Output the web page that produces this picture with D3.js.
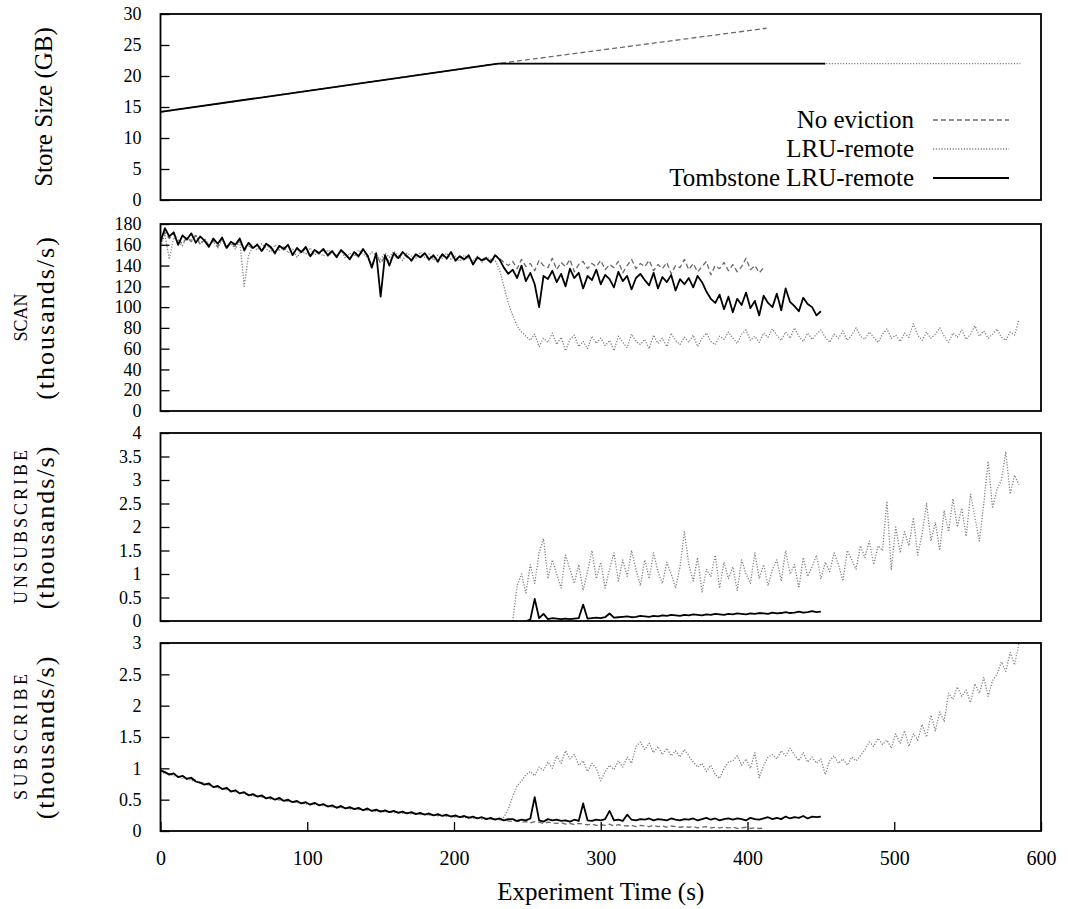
<!DOCTYPE html>
<html>
<head>
<meta charset="utf-8">
<script src="https://cdn.jsdelivr.net/npm/d3@7"></script>
<style>
body { margin: 0; background: #fff; }
</style>
</head>
<body>
<div id="chart"></div>
<script>
// sampling interval of the throughput series (seconds)
const step = 3
const xTicks = [0, 100, 200, 300, 400, 500, 600]
const seriesNames = ['No eviction', 'LRU-remote', 'Tombstone LRU-remote']

// store size (GB), breakpoints only
const storeTimeNoev = [0, 230, 413]
const storeNoev = [14.2, 22, 27.7]
const storeTimeLru = [0, 230, 586]
const storeLru = [14.2, 22, 22]
const storeTimeTomb = [0, 230, 453]
const storeTomb = [14.2, 22, 22]

// SCAN throughput (thousands/s), t = 0, 3, 6, ...
const scanNoev = [162, 172, 166, 170, 165, 161, 167, 163, 169, 160,
  165, 159, 164, 158, 166, 156, 162, 158, 165, 154,
  159, 156, 161, 153, 160, 157, 151, 158, 155, 159,
  151, 156, 152, 157, 148, 154, 151, 155, 149, 153,
  149, 154, 150, 147, 152, 148, 155, 149, 140, 151,
  142, 149, 143, 151, 146, 152, 148, 144, 150, 147,
  151, 145, 149, 143, 150, 146, 152, 144, 148, 145,
  149, 142, 147, 146, 148, 144, 150, 147, 143, 140,
  144, 137, 146, 139, 142, 135, 145, 140, 138, 147,
  136, 143, 139, 146, 134, 141, 144, 137, 142, 139,
  145, 136, 141, 138, 144, 133, 140, 146, 137, 142,
  139, 145, 135, 141, 137, 143, 132, 140, 138, 146,
  136, 142, 134, 139, 144, 131, 140, 137, 143, 135,
  141, 134, 139, 147, 136, 140, 133, 138]
const scanLru = [158, 170, 146, 167, 163, 159, 168, 164, 170, 161,
  166, 160, 163, 157, 165, 159, 161, 156, 164, 120,
  150, 158, 155, 161, 156, 153, 160, 155, 158, 152,
  156, 148, 154, 151, 157, 150, 153, 149, 155, 152,
  150, 154, 147, 152, 149, 155, 151, 148, 153, 150,
  146, 152, 148, 154, 150, 145, 152, 149, 147, 153,
  148, 151, 145, 150, 147, 152, 146, 149, 144, 150,
  147, 145, 149, 143, 148, 146, 145, 136, 120, 104,
  92, 82, 76, 72, 68, 74, 62, 70, 66, 75,
  64, 71, 58, 69, 73, 62, 67, 60, 72, 65,
  70, 63, 68, 58, 72, 66, 61, 74, 67, 64,
  69, 60, 73, 65, 70, 62, 75, 68, 64, 71,
  66, 73, 62, 70, 75, 67, 64, 72, 69, 76,
  70, 65, 74, 78, 68, 72, 66, 75, 71, 79,
  73, 68, 76, 70, 80, 72, 67, 75, 69, 74,
  78, 71, 66, 74, 70, 77, 68, 73, 80, 72,
  69, 76, 71, 66, 74, 79, 70, 73, 67, 75,
  71, 84, 73, 68, 76, 70, 74, 80, 72, 66,
  75, 71, 78, 69, 74, 82, 72, 77, 70, 74,
  79, 71, 68, 76, 73, 88]
const scanTomb = [163, 176, 168, 172, 160, 169, 165, 171, 162, 168,
  164, 158, 166, 161, 167, 157, 163, 160, 166, 155,
  162, 157, 160, 154, 161, 158, 152, 159, 156, 160,
  150, 157, 153, 158, 149, 155, 152, 156, 150, 154,
  148, 155, 151, 146, 153, 149, 156, 150, 138, 152,
  110, 150, 140, 152, 147, 153, 149, 145, 151, 148,
  152, 146, 150, 144, 151, 147, 153, 145, 149, 146,
  150, 141, 148, 145, 147, 143, 150, 146, 138, 132,
  136, 128, 140, 125, 133, 122, 100, 130, 127, 135,
  124, 132, 120, 137, 128, 133, 118, 130, 126, 136,
  122, 131, 127, 119, 134, 125, 130, 117, 128, 132,
  126, 121, 133, 118, 129, 124, 131, 116, 127, 122,
  128, 119, 130, 124, 115, 108, 104, 112, 98, 110,
  95, 108, 102, 114, 99, 106, 92, 111, 104, 100,
  113, 97, 118, 105, 101, 96, 109, 103, 100, 92, 96]

// UNSUBSCRIBE throughput (thousands/s)
const unsubLruStart = 240
const unsubLru = [0, 0.75, 1.0, 0.6, 1.2, 0.8, 1.45, 1.75, 0.9, 1.3,
  1.0, 0.7, 1.4, 1.1, 0.8, 1.2, 0.65, 1.05, 1.5, 0.9,
  1.25, 0.7, 1.1, 1.45, 0.85, 1.3, 0.95, 1.5, 1.1, 0.75,
  1.3, 0.9, 1.45, 1.05, 0.8, 1.25, 1.0, 0.7, 1.15, 1.9,
  1.2, 0.85, 1.35, 0.6, 1.1, 0.95, 1.4, 0.7, 1.25, 0.9,
  1.15, 0.65, 1.3, 1.0, 0.8, 1.45, 0.9, 1.2, 0.75, 1.1,
  1.3, 0.85, 1.5, 1.0, 1.2, 0.7, 1.35, 0.95, 1.15, 1.4,
  0.9, 1.25, 1.05, 1.45, 1.2, 0.85, 1.5, 1.3, 1.1, 1.6,
  1.35, 1.7, 1.2, 1.6, 1.5, 2.55, 1.1, 2.0, 1.45, 1.9,
  1.6, 2.2, 1.4, 1.85, 2.5, 1.7, 2.1, 1.5, 2.35, 1.9,
  2.6, 2.0, 2.4, 1.8, 2.7, 2.2, 1.7, 2.5, 3.4, 2.4,
  2.8, 3.0, 3.6, 2.7, 3.1, 2.9]
const unsubTombStart = 249
const unsubTomb = [0, 0.03, 0.47, 0.06, 0.15, 0.04, 0.06, 0.05, 0.04, 0.05,
  0.04, 0.05, 0.06, 0.35, 0.05, 0.06, 0.07, 0.06, 0.08, 0.16,
  0.07, 0.08, 0.09, 0.1, 0.08, 0.09, 0.11, 0.1, 0.09, 0.11,
  0.1, 0.12, 0.11, 0.13, 0.12, 0.11, 0.13, 0.12, 0.14, 0.13,
  0.12, 0.14, 0.13, 0.15, 0.14, 0.13, 0.15, 0.14, 0.16, 0.15,
  0.14, 0.16, 0.15, 0.17, 0.16, 0.15, 0.18, 0.16, 0.17, 0.19,
  0.17, 0.18, 0.2, 0.18, 0.19, 0.21, 0.19, 0.2]

// SUBSCRIBE throughput (thousands/s), t = 0, 3, 6, ...
const subNoev = [0.96, 0.93, 0.91, 0.9, 0.87, 0.86, 0.84, 0.83, 0.8, 0.78,
  0.76, 0.74, 0.71, 0.7, 0.68, 0.67, 0.64, 0.63, 0.61, 0.6,
  0.58, 0.57, 0.55, 0.55, 0.53, 0.52, 0.51, 0.5, 0.49, 0.48,
  0.47, 0.46, 0.45, 0.44, 0.43, 0.43, 0.42, 0.41, 0.4, 0.39,
  0.38, 0.38, 0.37, 0.36, 0.36, 0.35, 0.34, 0.34, 0.33, 0.32,
  0.32, 0.31, 0.31, 0.3, 0.3, 0.29, 0.29, 0.28, 0.28, 0.27,
  0.27, 0.26, 0.26, 0.25, 0.25, 0.24, 0.24, 0.23, 0.23, 0.22,
  0.22, 0.21, 0.21, 0.2, 0.2, 0.19, 0.19, 0.18, 0.17, 0.16,
  0.15, 0.16, 0.14, 0.15, 0.13, 0.15, 0.14, 0.12, 0.14, 0.13,
  0.12, 0.13, 0.11, 0.12, 0.1, 0.12, 0.11, 0.1, 0.11, 0.09,
  0.1, 0.09, 0.11, 0.08, 0.1, 0.09, 0.08, 0.09, 0.07, 0.09,
  0.08, 0.07, 0.09, 0.07, 0.08, 0.06, 0.08, 0.07, 0.06, 0.07,
  0.06, 0.07, 0.05, 0.06, 0.07, 0.05, 0.06, 0.05, 0.06, 0.05,
  0.06, 0.04, 0.05, 0.06, 0.04, 0.05, 0.04, 0.05]
const subLru = [0.95, 0.92, 0.91, 0.88, 0.87, 0.84, 0.85, 0.8, 0.81, 0.76,
  0.75, 0.73, 0.71, 0.69, 0.68, 0.66, 0.64, 0.62, 0.61, 0.6,
  0.58, 0.56, 0.56, 0.54, 0.53, 0.51, 0.51, 0.49, 0.49, 0.47,
  0.47, 0.45, 0.45, 0.43, 0.43, 0.42, 0.42, 0.4, 0.4, 0.38,
  0.38, 0.37, 0.37, 0.35, 0.36, 0.34, 0.34, 0.33, 0.33, 0.31,
  0.32, 0.3, 0.31, 0.29, 0.3, 0.28, 0.29, 0.27, 0.28, 0.26,
  0.27, 0.25, 0.26, 0.24, 0.25, 0.23, 0.24, 0.22, 0.23, 0.21,
  0.22, 0.2, 0.21, 0.19, 0.2, 0.18, 0.19, 0.19, 0.22, 0.35,
  0.55, 0.72, 0.8, 0.9, 0.95, 0.88, 1.02, 0.97, 1.1, 1.0,
  1.2, 1.08, 1.28, 1.15, 1.22, 1.05, 1.12, 0.95, 1.08, 1.0,
  0.8, 0.95, 1.05, 0.98, 1.12, 1.02, 1.18, 1.08, 1.35, 1.42,
  1.3, 1.4, 1.25, 1.35, 1.22, 1.32, 1.2, 1.28, 1.18, 1.3,
  1.2, 1.1, 1.02, 1.08, 0.95, 1.05, 0.9, 0.84, 1.0, 1.1,
  1.12, 1.2, 1.05, 1.15, 1.0, 1.25, 0.85, 1.05, 1.18, 1.22,
  1.15, 1.28, 1.2, 1.32, 1.22, 1.12, 1.25, 1.1, 1.18, 1.08,
  1.15, 0.9, 1.12, 1.2, 1.08, 1.15, 1.05, 1.18, 1.12, 1.2,
  1.3, 1.42, 1.35, 1.48, 1.38, 1.45, 1.32, 1.55, 1.4, 1.6,
  1.35, 1.55, 1.45, 1.7, 1.5, 1.85, 1.6, 1.9, 1.75, 2.2,
  2.1, 2.3, 2.15, 2.25, 2.05, 2.35, 2.2, 2.45, 2.15, 2.4,
  2.5, 2.7, 2.55, 2.85, 2.65, 3.0]
const subTomb = [0.97, 0.94, 0.9, 0.92, 0.86, 0.88, 0.83, 0.85, 0.79, 0.77,
  0.74, 0.76, 0.7, 0.72, 0.67, 0.69, 0.63, 0.65, 0.6, 0.62,
  0.57, 0.59, 0.55, 0.57, 0.52, 0.54, 0.5, 0.53, 0.48, 0.5,
  0.46, 0.48, 0.44, 0.46, 0.42, 0.45, 0.41, 0.43, 0.39, 0.41,
  0.37, 0.4, 0.36, 0.38, 0.35, 0.37, 0.33, 0.36, 0.32, 0.34,
  0.31, 0.33, 0.3, 0.32, 0.29, 0.31, 0.28, 0.3, 0.27, 0.29,
  0.26, 0.28, 0.25, 0.27, 0.24, 0.26, 0.23, 0.25, 0.22, 0.24,
  0.21, 0.23, 0.2, 0.22, 0.19, 0.21, 0.18, 0.2, 0.17, 0.19,
  0.19, 0.16, 0.18, 0.17, 0.2, 0.54, 0.17, 0.15, 0.19, 0.17,
  0.18, 0.16, 0.17, 0.15, 0.18, 0.16, 0.44, 0.17, 0.16, 0.18,
  0.17, 0.19, 0.32, 0.17, 0.18, 0.16, 0.26, 0.18, 0.17, 0.19,
  0.18, 0.2, 0.17, 0.19, 0.18, 0.17, 0.2, 0.18, 0.17, 0.19,
  0.18, 0.2, 0.17, 0.19, 0.21, 0.18, 0.2, 0.17, 0.19, 0.2,
  0.18, 0.2, 0.19, 0.17, 0.21, 0.19, 0.18, 0.2, 0.22, 0.19,
  0.21, 0.19, 0.23, 0.2, 0.22, 0.21, 0.24, 0.2, 0.23, 0.22, 0.23]

const sampled = (values, start = 0) => values.map((v, i) => ({ t: start + i * step, v }))
const paired = (times, values) => values.map((v, i) => ({ t: times[i], v }))

const styles = {
  noev: { stroke: '#6b6b6b', width: 1.3, dash: '5,3' },
  lru: { stroke: '#808080', width: 1.3, dash: '1.2,1.6' },
  tomb: { stroke: '#000', width: 1.8, dash: null }
}

const panels = [
  {
    top: 14, bottom: 200, yMax: 30, yStep: 5,
    title: 'Store Size (GB)',
    lines: [
      ['noev', paired(storeTimeNoev, storeNoev)],
      ['lru', paired(storeTimeLru, storeLru)],
      ['tomb', paired(storeTimeTomb, storeTomb)]
    ]
  },
  {
    top: 224, bottom: 411, yMax: 180, yStep: 20,
    name: 'SCAN', nameLen: null,
    lines: [['noev', sampled(scanNoev)], ['lru', sampled(scanLru)], ['tomb', sampled(scanTomb)]]
  },
  {
    top: 433, bottom: 621, yMax: 4, yStep: 0.5,
    name: 'UNSUBSCRIBE', nameLen: 154,
    lines: [['lru', sampled(unsubLru, unsubLruStart)], ['tomb', sampled(unsubTomb, unsubTombStart)]]
  },
  {
    top: 643, bottom: 831, yMax: 3, yStep: 0.5,
    name: 'SUBSCRIBE', nameLen: 126,
    lines: [['noev', sampled(subNoev)], ['lru', sampled(subLru)], ['tomb', sampled(subTomb)]]
  }
]

const W = 1068
const H = 909
const left = 160.5
const right = 1041
const serif = "'Liberation Serif', 'Times New Roman', Tinos, 'DejaVu Serif', serif"

const svg = d3.select('#chart')
  .append('svg')
  .attr('width', W)
  .attr('height', H)
  .style('font-family', serif)

const x = d3.scaleLinear().domain([0, 600]).range([left, right])

panels.forEach((p, k) => {
  const y = d3.scaleLinear().domain([0, p.yMax]).range([p.bottom, p.top])
  const g = svg.append('g')

  g.append('clipPath').attr('id', 'clip' + k)
    .append('rect')
    .attr('x', left).attr('y', p.top)
    .attr('width', right - left).attr('height', p.bottom - p.top)

  const line = d3.line().x(d => x(d.t)).y(d => y(d.v))

  p.lines.forEach(([key, pts]) => {
    const s = styles[key]
    g.append('path')
      .datum(pts)
      .attr('clip-path', 'url(#clip' + k + ')')
      .attr('d', line)
      .attr('fill', 'none')
      .attr('stroke', s.stroke)
      .attr('stroke-width', s.width)
      .attr('stroke-dasharray', s.dash)
      .attr('stroke-linejoin', 'round')
  })

  const yAxis = g.append('g')
    .attr('transform', 'translate(' + left + ',0)')
    .call(d3.axisLeft(y)
      .tickValues(d3.range(0, p.yMax + p.yStep / 2, p.yStep))
      .tickFormat(d3.format(''))
      .tickSize(-9)
      .tickPadding(19))
  yAxis.attr('font-family', null).attr('font-size', null)
  yAxis.select('.domain').remove()
  yAxis.selectAll('line').attr('stroke', '#000').attr('stroke-width', 1.3)
  yAxis.selectAll('text').style('font-size', '18px').style('font-family', serif).attr('fill', '#000')

  if (k === panels.length - 1) {
    const xAxis = g.append('g')
      .attr('transform', 'translate(0,' + p.bottom + ')')
      .call(d3.axisBottom(x).tickValues(xTicks).tickFormat(d3.format('')).tickSize(-9).tickPadding(20))
    xAxis.attr('font-family', null).attr('font-size', null)
    xAxis.select('.domain').remove()
    xAxis.selectAll('line').attr('stroke', '#000').attr('stroke-width', 1.3)
    xAxis.selectAll('text').style('font-size', '20px').style('font-family', serif).attr('fill', '#000')
  }

  g.append('rect')
    .attr('x', left).attr('y', p.top)
    .attr('width', right - left).attr('height', p.bottom - p.top)
    .attr('fill', 'none')
    .attr('stroke', '#000')
    .attr('stroke-width', 1.8)

  const cy = (p.top + p.bottom) / 2
  if (p.title) {
    g.append('text')
      .attr('transform', 'translate(52,' + cy + ') rotate(-90)')
      .attr('text-anchor', 'middle')
      .style('font-size', '25px')
      .text(p.title)
  } else {
    const nm = g.append('text')
      .attr('transform', 'translate(27,' + cy + ') rotate(-90)')
      .attr('text-anchor', 'middle')
      .style('font-size', '18px')
      .text(p.name)
    if (p.nameLen) nm.attr('textLength', p.nameLen).attr('lengthAdjust', 'spacing')
    g.append('text')
      .attr('transform', 'translate(54,' + cy + ') rotate(-90)')
      .attr('text-anchor', 'middle')
      .style('font-size', '26px')
      .attr('letter-spacing', 2)
      .text('(thousands/s)')
  }
})

// legend inside the first panel
const legendKeys = ['noev', 'lru', 'tomb']
const legend = svg.append('g')
legendKeys.forEach((key, i) => {
  const ly = 120 + i * 29
  const s = styles[key]
  legend.append('text')
    .attr('x', 914)
    .attr('y', ly)
    .attr('dy', '0.33em')
    .attr('text-anchor', 'end')
    .style('font-size', '25px')
    .text(seriesNames[i])
  legend.append('line')
    .attr('x1', 933).attr('x2', 1009)
    .attr('y1', ly).attr('y2', ly)
    .attr('stroke', s.stroke)
    .attr('stroke-width', s.width)
    .attr('stroke-dasharray', s.dash)
})

svg.append('text')
  .attr('x', (left + right) / 2)
  .attr('y', 900)
  .attr('text-anchor', 'middle')
  .style('font-size', '25px')
  .text('Experiment Time (s)')
</script>
</body>
</html>
